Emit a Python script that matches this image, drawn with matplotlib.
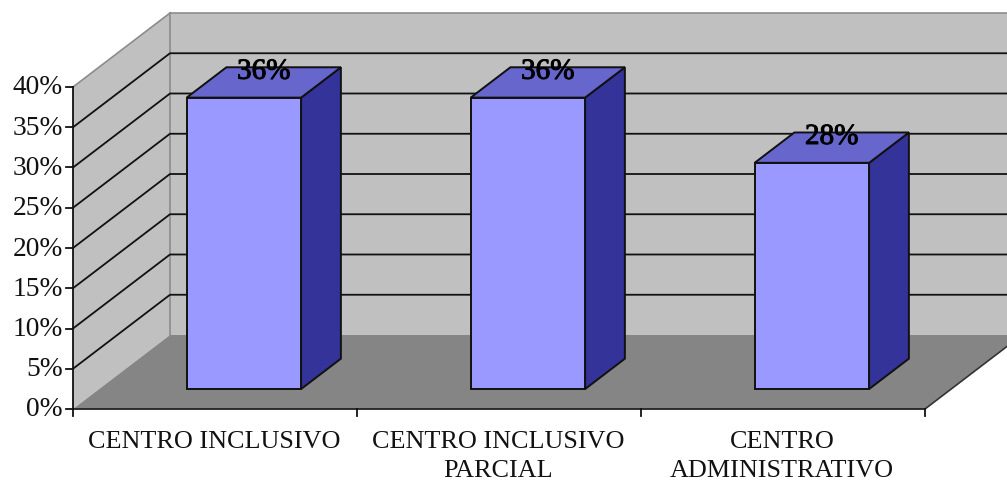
"""3D-look column chart: share of each type of centre."""

import matplotlib.patheffects as pe
import matplotlib.pyplot as plt
import numpy as np

plt.switch_backend("agg")
plt.rcParams["font.family"] = ["Liberation Serif", "DejaVu Serif"]

categories = ["CENTRO INCLUSIVO", "CENTRO INCLUSIVO\nPARCIAL", "CENTRO\nADMINISTRATIVO"]
values = [36.2, 36.2, 28.1]
value_labels = ["36%", "36%", "28%"]
y_ticks = [0, 5, 10, 15, 20, 25, 30, 35, 40]
y_tick_labels = ["0%", "5%", "10%", "15%", "20%", "25%", "30%", "35%", "40%"]

# oblique projection, all in image pixels
X0, Y0 = 73.0, 409.0
CAT_W = 284.0
PCT_H = 8.05
DX, DY = 97.0, -74.0

BAR_START = 0.308
BAR_WIDTH = 0.403
DEPTH_FRONT = 0.27
DEPTH_BACK = 0.68

WALL = "#C0C0C0"
FLOOR = "#858585"
EDGE = "#111111"


def project(cat, pct, depth=0.0):
    """Category units, percent and depth (0 front, 1 back) to image pixels."""
    return X0 + cat * CAT_W + depth * DX, Y0 - pct * PCT_H + depth * DY


def face(ax, corners, color, zorder, edge=None, lw=0.0):
    pts = np.array([project(*c) for c in corners])
    ax.fill(pts[:, 0], pts[:, 1], facecolor=color, edgecolor=edge or color, linewidth=lw, zorder=zorder)


fig = plt.figure(figsize=(10.07, 4.83), dpi=100)
ax = fig.add_axes([0, 0, 1, 1])
ax.set_xlim(0, 1007)
ax.set_ylim(483, 0)
ax.axis("off")

n = len(categories)
top = y_ticks[-1]

# walls and floor
face(ax, [(0, 0, 1), (n, 0, 1), (n, top, 1), (0, top, 1)], WALL, 1)
face(ax, [(0, 0, 0), (0, 0, 1), (0, top, 1), (0, top, 0)], WALL, 1)
face(ax, [(0, 0, 0), (n, 0, 0), (n, 0, 1), (0, 0, 1)], FLOOR, 2)

# wall outline
for a, b in [((0, 0, 1), (0, top, 1)), ((0, top, 1), (n, top, 1)), ((0, top, 0), (0, top, 1))]:
    pa, pb = project(*a), project(*b)
    ax.plot([pa[0], pb[0]], [pa[1], pb[1]], color="#8C8C8C", lw=1.2, zorder=3)

# gridlines
for t in y_ticks[1:-1]:
    p0, p1, p2 = project(0, t, 0), project(0, t, 1), project(n, t, 1)
    ax.plot([p0[0], p1[0], p2[0]], [p0[1], p1[1], p2[1]], color=EDGE, lw=1.3, zorder=3)

# floor right edge
p0, p1 = project(n, 0, 0), project(n, 0, 1)
ax.plot([p0[0], p1[0]], [p0[1], p1[1]], color="#333333", lw=1.2, zorder=3)

# bars
for i, v in enumerate(values):
    left = i + BAR_START
    right = left + BAR_WIDTH
    face(ax, [(right, 0, DEPTH_FRONT), (right, 0, DEPTH_BACK), (right, v, DEPTH_BACK), (right, v, DEPTH_FRONT)],
         "#333399", 5, EDGE, 1.4)
    face(ax, [(left, v, DEPTH_FRONT), (right, v, DEPTH_FRONT), (right, v, DEPTH_BACK), (left, v, DEPTH_BACK)],
         "#6666CC", 5, EDGE, 1.4)
    face(ax, [(left, 0, DEPTH_FRONT), (right, 0, DEPTH_FRONT), (right, v, DEPTH_FRONT), (left, v, DEPTH_FRONT)],
         "#9999FF", 6, EDGE, 1.4)
    lx, ly = project(left + BAR_WIDTH / 2, v, DEPTH_BACK)
    ax.text(lx - 20, ly + 4.5, value_labels[i], ha="center", va="center", fontsize=21, color="black", zorder=8,
            path_effects=[pe.withStroke(linewidth=0.7, foreground="black")])

# axes lines, ticks, labels
p0, p1 = project(0, 0), project(0, top)
ax.plot([p0[0], p1[0]], [p0[1], p1[1]], color=EDGE, lw=1.3, zorder=7)
p1 = project(n, 0)
ax.plot([p0[0], p1[0]], [p0[1], p1[1]], color="#222222", lw=1.3, zorder=7)

for t, lab in zip(y_ticks, y_tick_labels):
    px, py = project(0, t)
    ax.plot([px - 7, px], [py, py], color=EDGE, lw=1.3, zorder=7)
    ax.text(px - 10, py + 1, lab, ha="right", va="center", fontsize=19.8, color="#111111")

for i in range(n + 1):
    px, py = project(i, 0)
    ax.plot([px, px], [py, py + 7], color=EDGE, lw=1.3, zorder=7)

for i, lab in enumerate(categories):
    px, py = project(i + 0.5, 0)
    ax.text(px - 1, 431, lab, ha="center", va="top", fontsize=18.8, color="#111111", linespacing=1.42)

fig.savefig("out.png", dpi=100)
plt.close(fig)
